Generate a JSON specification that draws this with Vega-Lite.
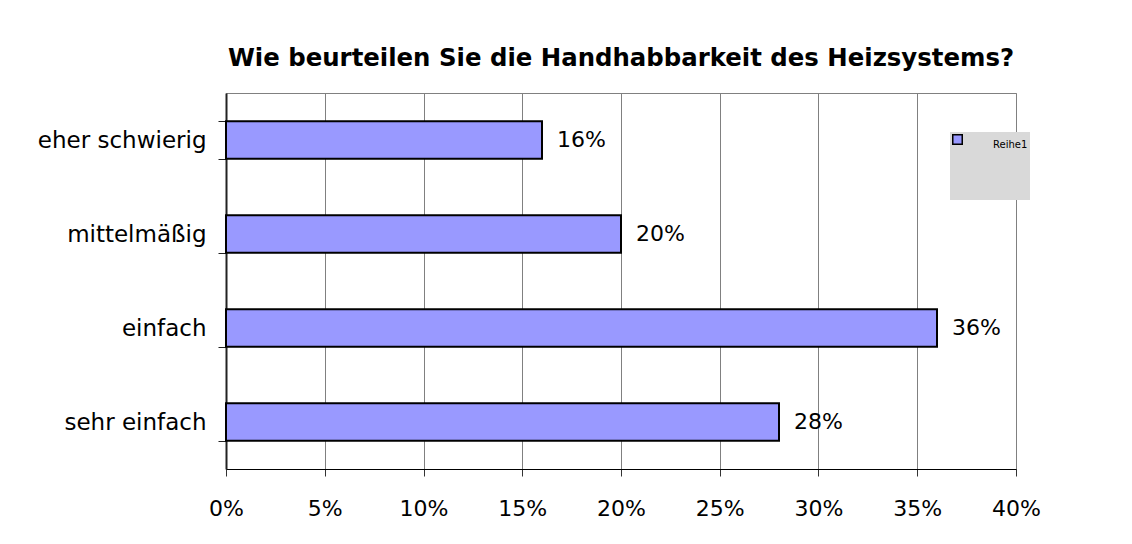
{
  "$schema": "https://vega.github.io/schema/vega-lite/v6.json",
  "autosize": "none",
  "width": 790,
  "height": 376,
  "padding": {"left": 226, "top": 93, "right": 116, "bottom": 75},
  "background": "white",
  "title": {
    "text": "Wie beurteilen Sie die Handhabbarkeit des Heizsystems?",
    "fontSize": 24.4,
    "fontWeight": "bold",
    "font": "DejaVu Sans",
    "color": "black",
    "anchor": "middle",
    "offset": 11
  },
  "data": {
    "values": [
      {"kategorie": "eher schwierig", "anteil": 0.16, "serie": "Reihe1"},
      {"kategorie": "mittelmäßig", "anteil": 0.20, "serie": "Reihe1"},
      {"kategorie": "einfach", "anteil": 0.36, "serie": "Reihe1"},
      {"kategorie": "sehr einfach", "anteil": 0.28, "serie": "Reihe1"}
    ]
  },
  "encoding": {
    "y": {
      "field": "kategorie",
      "type": "nominal",
      "sort": null,
      "scale": {"paddingInner": 0.6, "paddingOuter": 0.3},
      "axis": {
        "title": null,
        "tickBand": "extent",
        "domainColor": "#222222",
        "domainWidth": 2,
        "tickColor": "#222222",
        "tickSize": 8,
        "labelPadding": 12,
        "labelFontSize": 23,
        "labelColor": "black",
        "labelFont": "DejaVu Sans",
        "grid": false
      }
    },
    "x": {
      "field": "anteil",
      "type": "quantitative",
      "scale": {"domain": [0, 0.4], "nice": false},
      "axis": {
        "title": null,
        "values": [0, 0.05, 0.1, 0.15, 0.2, 0.25, 0.3, 0.35, 0.4],
        "format": ".0%",
        "labelFlush": false,
        "grid": true,
        "gridColor": "#808080",
        "gridOpacity": 1,
        "domainColor": "black",
        "tickColor": "#333333",
        "tickSize": 7,
        "labelPadding": 22,
        "labelFontSize": 22,
        "labelColor": "black",
        "labelFont": "DejaVu Sans"
      }
    }
  },
  "layer": [
    {
      "mark": {"type": "bar", "stroke": "black", "strokeWidth": 2},
      "encoding": {
        "fill": {
          "datum": "Balken",
          "type": "nominal",
          "scale": {"range": ["#9999ff"]},
          "legend": null
        },
        "opacity": {
          "field": "serie",
          "type": "ordinal",
          "scale": {"range": [1, 1]},
          "legend": {
            "title": null,
            "orient": "none",
            "legendX": 724,
            "legendY": 39,
            "fillColor": "#d9d9d9",
            "padding": 2,
            "symbolType": "square",
            "symbolSize": 90,
            "labelFontSize": 10,
            "labelColor": "black",
            "labelExpr": "['Reihe1', ' ', ' ', ' ', ' ']",
            "labelBaseline": "top",
            "labelOffset": 30,
            "labelLimit": 200
          }
        }
      }
    },
    {
      "mark": {"type": "text", "align": "left", "baseline": "middle", "dx": 15, "fontSize": 22, "font": "DejaVu Sans", "color": "black"},
      "encoding": {
        "text": {"field": "anteil", "type": "quantitative", "format": ".0%"}
      }
    }
  ],
  "config": {
    "view": {"stroke": "#808080"},
    "font": "DejaVu Sans"
  }
}
